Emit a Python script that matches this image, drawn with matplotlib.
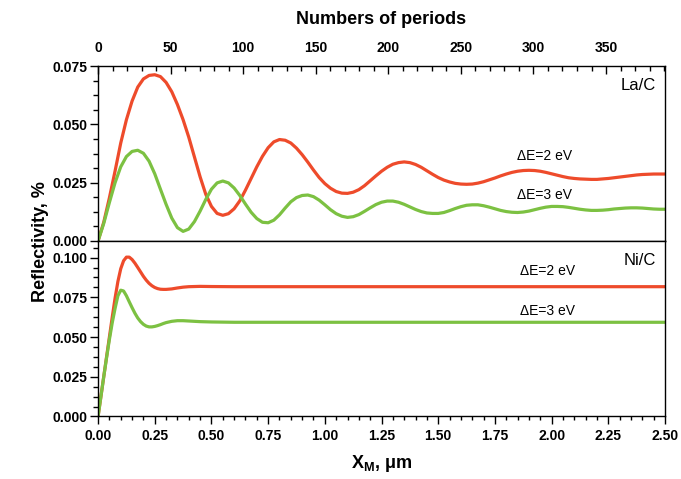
import numpy as np
import matplotlib.pyplot as plt
from matplotlib.ticker import MultipleLocator, FixedLocator

plt.rcParams['font.family'] = ['Liberation Sans', 'DejaVu Sans']
plt.rcParams['mathtext.fontset'] = 'custom'
plt.rcParams['mathtext.rm'] = 'Liberation Sans:bold'
plt.rcParams['mathtext.bf'] = 'Liberation Sans:bold'

# period of the multilayer, nm (for top axis: number of periods)
period_nm = 6.4
period_ticks = [0, 50, 100, 150, 200, 250, 300, 350]
period_minor = list(range(0, 391, 10))

# La/C panel, x grid 0..2.5 um step 0.025
x_lac = np.linspace(0, 2.5, 101)
lac_2ev = [
    0.0000, 0.0080, 0.0185, 0.0300, 0.0420, 0.0520, 0.0600, 0.0660, 0.0695, 0.0710,
    0.0713, 0.0705, 0.0680, 0.0640, 0.0585, 0.0520, 0.0445, 0.0360, 0.0275, 0.0200,
    0.0148, 0.0118, 0.0110, 0.0117, 0.0138, 0.0172, 0.0218, 0.0268, 0.0318, 0.0363,
    0.0400, 0.0425, 0.0435, 0.0432, 0.0420, 0.0398, 0.0370, 0.0338, 0.0304, 0.0272,
    0.0246, 0.0226, 0.0212, 0.0205, 0.0204, 0.0209, 0.0220, 0.0237, 0.0258, 0.0279,
    0.0299, 0.0316, 0.0329, 0.0336, 0.0339, 0.0336, 0.0328, 0.0316, 0.0301, 0.0286,
    0.0272, 0.0261, 0.0253, 0.0247, 0.0244, 0.0243, 0.0244, 0.0248, 0.0254, 0.0262,
    0.0270, 0.0279, 0.0287, 0.0294, 0.0299, 0.0302, 0.0303, 0.0302, 0.0299, 0.0294,
    0.0288, 0.0282, 0.0276, 0.0271, 0.0268, 0.0266, 0.0265, 0.0264, 0.0264, 0.0266,
    0.0268, 0.0271, 0.0274, 0.0277, 0.0280, 0.0283, 0.0285, 0.0286, 0.0287, 0.0287,
    0.0287,
]
lac_3ev = [
    0.0000, 0.0075, 0.0165, 0.0250, 0.0318, 0.0362, 0.0384, 0.0389, 0.0376, 0.0342,
    0.0288, 0.0222, 0.0157, 0.0098, 0.0057, 0.0041, 0.0051, 0.0083, 0.0128, 0.0178,
    0.0222, 0.0249, 0.0257, 0.0249, 0.0227, 0.0195, 0.0158, 0.0123, 0.0096, 0.0080,
    0.0078, 0.0089, 0.0112, 0.0141, 0.0168, 0.0186, 0.0195, 0.0197, 0.0190, 0.0175,
    0.0155, 0.0134, 0.0117, 0.0106, 0.0101, 0.0104, 0.0113, 0.0127, 0.0142, 0.0156,
    0.0166, 0.0171, 0.0171, 0.0166, 0.0157, 0.0146, 0.0135, 0.0126, 0.0120, 0.0118,
    0.0118, 0.0122, 0.0130, 0.0139, 0.0147, 0.0153, 0.0155, 0.0155, 0.0151, 0.0145,
    0.0138, 0.0131, 0.0126, 0.0123, 0.0122, 0.0124, 0.0128, 0.0134, 0.0140, 0.0145,
    0.0148, 0.0148, 0.0147, 0.0144, 0.0140, 0.0136, 0.0133, 0.0131, 0.0131, 0.0132,
    0.0134, 0.0137, 0.0139, 0.0141, 0.0142, 0.0142, 0.0141, 0.0139, 0.0137, 0.0136,
    0.0136,
]

# Ni/C panel
x_nic = [0.0000, 0.0125, 0.0250, 0.0375, 0.0500, 0.0625, 0.0750, 0.0875, 0.1000, 0.1125,
         0.1250, 0.1375, 0.1500, 0.1625, 0.1750, 0.1875, 0.2000, 0.2125, 0.2250, 0.2375,
         0.2500, 0.2625, 0.2750, 0.2875, 0.3000, 0.3250, 0.3500, 0.3750, 0.4000, 0.4500,
         0.5000, 0.6000, 0.8000, 1.0000, 1.5000, 2.0000, 2.5000]
nic_2ev = [0.0000, 0.0125, 0.0250, 0.0375, 0.0500, 0.0625, 0.0745, 0.0850, 0.0930, 0.0980,
           0.1003, 0.1003, 0.0988, 0.0965, 0.0938, 0.0910, 0.0882, 0.0858, 0.0838, 0.0823,
           0.0812, 0.0805, 0.0801, 0.0800, 0.0800, 0.0803, 0.0809, 0.0814, 0.0817, 0.0819,
           0.0818, 0.0817, 0.0817, 0.0817, 0.0817, 0.0817, 0.0817]
nic_3ev = [0.0000, 0.0125, 0.0250, 0.0370, 0.0485, 0.0590, 0.0680, 0.0760, 0.0795, 0.0790,
           0.0760, 0.0722, 0.0685, 0.0650, 0.0620, 0.0597, 0.0580, 0.0569, 0.0564, 0.0564,
           0.0567, 0.0572, 0.0578, 0.0585, 0.0591, 0.0599, 0.0603, 0.0603, 0.0601, 0.0597,
           0.0595, 0.0593, 0.0593, 0.0593, 0.0593, 0.0593, 0.0593]

red = '#ee4b2b'
green = '#7cc142'
lw = 2.3

fig = plt.figure(figsize=(6.81, 4.79), dpi=100)
ax1 = fig.add_axes([0.144, 0.497, 0.8325, 0.365])
ax2 = fig.add_axes([0.144, 0.1305, 0.8325, 0.3665])

kw = dict(lw=lw, solid_joinstyle='round', solid_capstyle='round')
ax1.plot(x_lac, lac_2ev, color=red, **kw)
ax1.plot(x_lac, lac_3ev, color=green, **kw)
ax2.plot(x_nic, nic_2ev, color=red, **kw)
ax2.plot(x_nic, nic_3ev, color=green, **kw)

ax1.set_xlim(0, 2.5)
ax1.set_ylim(0, 0.075)
ax2.set_xlim(0, 2.5)
ax2.set_ylim(0, 0.1105)

for ax in (ax1, ax2):
    for s in ax.spines.values():
        s.set_linewidth(1.0)
    ax.yaxis.set_major_locator(MultipleLocator(0.025))
    ax.yaxis.set_minor_locator(MultipleLocator(0.00625))
    ax.yaxis.set_major_formatter(plt.FormatStrFormatter('%.3f'))
    ax.tick_params(axis='y', which='major', direction='out', length=6, width=1,
                   pad=1.5, labelsize=10)
    ax.tick_params(axis='y', which='minor', direction='out', length=3.5, width=1)
    for t in ax.get_yticklabels():
        t.set_fontweight('bold')

# top axis of upper panel: number of periods (positions in um)
ax1.xaxis.tick_top()
ax1.xaxis.set_label_position('top')
ax1.set_xticks([p * period_nm / 1000 for p in period_ticks])
ax1.set_xticklabels([str(p) for p in period_ticks], fontweight='bold')
ax1.set_xticks([p * period_nm / 1000 for p in period_minor], minor=True)
ax1.tick_params(axis='x', which='major', direction='in', length=6, width=1,
                pad=8, labelsize=10)
ax1.tick_params(axis='x', which='minor', direction='in', length=3.5, width=1)
ax1.set_xlim(0, 2.5)
ax1.set_xlabel('Numbers of periods', fontsize=13, fontweight='bold', labelpad=12)

ax2.xaxis.set_major_locator(MultipleLocator(0.25))
ax2.xaxis.set_minor_locator(MultipleLocator(0.05))
ax2.xaxis.set_major_formatter(plt.FormatStrFormatter('%.2f'))
ax2.tick_params(axis='x', which='major', direction='out', length=6, width=1,
                pad=3, labelsize=10)
ax2.tick_params(axis='x', which='minor', direction='out', length=3, width=1)
for t in ax2.get_xticklabels():
    t.set_fontweight('bold')

ax2.set_xlabel(r'$\mathregular{X_M}$, μm', fontsize=13, fontweight='bold', labelpad=7)
fig.text(0.06, 0.496, 'Reflectivity, %', rotation=90, ha='center', va='center',
         fontsize=13, fontweight='bold')

# annotations
ax1.text(2.46, 0.0665, 'La/C', ha='right', va='center', fontsize=12)
ax1.text(1.97, 0.0365, 'ΔE=2 eV', ha='center', va='center', fontsize=10)
ax1.text(1.97, 0.0195, 'ΔE=3 eV', ha='center', va='center', fontsize=10)
ax2.text(2.46, 0.0985, 'Ni/C', ha='right', va='center', fontsize=12)
ax2.text(1.98, 0.0915, 'ΔE=2 eV', ha='center', va='center', fontsize=10)
ax2.text(1.98, 0.0663, 'ΔE=3 eV', ha='center', va='center', fontsize=10)

fig.savefig('out.png', dpi=100)
